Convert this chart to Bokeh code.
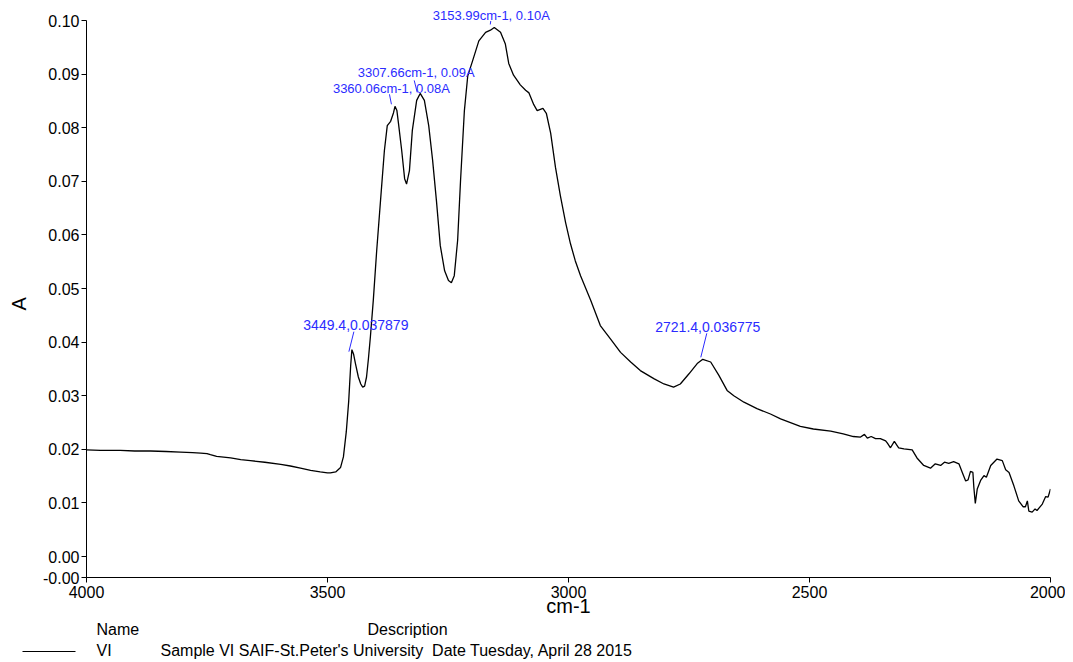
from bokeh.plotting import figure
from bokeh.models import Range1d, FixedTicker, CustomJSTickFormatter, Label
from bokeh.core.properties import value
from bokeh.embed import file_html
from bokeh.resources import INLINE

# ---------------- data ----------------
wavenumber = [4000, 3971, 3930, 3900, 3867, 3835, 3805, 3780, 3763, 3750, 3743, 3730,
              3701, 3680, 3660, 3630, 3597, 3577, 3556, 3535, 3515, 3500, 3494, 3483,
              3473, 3467, 3461, 3456, 3452, 3449.4, 3446, 3442, 3436, 3431, 3427, 3423,
              3419, 3415, 3411, 3405, 3398, 3390, 3382, 3376, 3369, 3363, 3360, 3356,
              3353, 3346, 3340, 3336, 3330, 3324, 3315, 3307.7, 3299, 3290, 3282, 3274,
              3266, 3257, 3249, 3243, 3237, 3230, 3224, 3216, 3209, 3200, 3186, 3172,
              3162, 3154, 3141, 3131, 3124, 3114, 3100, 3089, 3082, 3072, 3065, 3053,
              3046, 3037, 3027, 3017, 3006, 2996, 2986, 2975, 2954, 2934, 2913, 2892,
              2871, 2851, 2823, 2802, 2782, 2768, 2750, 2733, 2721.4, 2705, 2688, 2671,
              2657, 2636, 2609, 2581, 2560, 2519, 2492, 2456, 2430, 2409, 2394, 2386,
              2380, 2372, 2363, 2353, 2342, 2338, 2332, 2324, 2315, 2304, 2287, 2277,
              2263, 2249, 2239, 2228, 2220, 2211, 2201, 2190, 2183, 2176, 2171, 2166,
              2161, 2159, 2156, 2152, 2145, 2138, 2133, 2124, 2111, 2100, 2093, 2086,
              2076, 2066, 2057, 2052, 2048, 2045, 2038, 2032, 2028, 2017, 2010, 2005, 2000]
absorbance = [0.0199, 0.0198, 0.0198, 0.0197, 0.0197, 0.0196, 0.0195, 0.0194, 0.0193, 0.0192, 0.0190, 0.0187,
              0.0184, 0.0181, 0.0179, 0.0176, 0.0172, 0.0169, 0.0165, 0.0161, 0.0158, 0.0156, 0.0156, 0.0158,
              0.0166, 0.0186, 0.0233, 0.0290, 0.0355, 0.0386, 0.0378, 0.0360, 0.0335, 0.0322, 0.0316, 0.0318,
              0.0335, 0.0370, 0.0410, 0.0478, 0.0570, 0.0664, 0.0757, 0.0804, 0.0812, 0.0828, 0.0840, 0.0832,
              0.0810, 0.0757, 0.0705, 0.0695, 0.0720, 0.0795, 0.0851, 0.0864, 0.0851, 0.0804, 0.0740, 0.0664,
              0.0580, 0.0533, 0.0515, 0.0511, 0.0524, 0.0590, 0.0701, 0.0832, 0.0897, 0.0922, 0.0962, 0.0978,
              0.0982, 0.0987, 0.0978, 0.0956, 0.0920, 0.0898, 0.0880, 0.0870, 0.0865, 0.0843, 0.0832, 0.0836,
              0.0827, 0.0790, 0.0726, 0.0674, 0.0623, 0.0584, 0.0552, 0.0524, 0.0478, 0.0431, 0.0406, 0.0381,
              0.0363, 0.0347, 0.0332, 0.0322, 0.0316, 0.0322, 0.0341, 0.0360, 0.0368, 0.0363, 0.0338, 0.0310,
              0.0300, 0.0288, 0.0276, 0.0266, 0.0257, 0.0243, 0.0238, 0.0234, 0.0229, 0.0224, 0.0223, 0.0228,
              0.0221, 0.0224, 0.0220, 0.0220, 0.0216, 0.0211, 0.0203, 0.0215, 0.0203, 0.0201, 0.0199, 0.0184,
              0.0170, 0.0165, 0.0173, 0.0170, 0.0176, 0.0174, 0.0177, 0.0173, 0.0157, 0.0141, 0.0143, 0.0159,
              0.0157, 0.0129, 0.0099, 0.0126, 0.0142, 0.0151, 0.0148, 0.0170, 0.0182, 0.0179, 0.0162, 0.0157,
              0.0132, 0.0104, 0.0093, 0.0093, 0.0104, 0.0085, 0.0083, 0.0089, 0.0086, 0.0098, 0.0112, 0.0111, 0.0126]

peak_wn = [3449.4, 3360.06, 3307.66, 3153.99, 2721.4]
peak_abs = [0.0386, 0.0840, 0.0864, 0.0987, 0.0368]
peak_text = ["3449.4,0.037879", "3360.06cm-1, 0.08A", "3307.66cm-1, 0.09A",
             "3153.99cm-1, 0.10A", "2721.4,0.036775"]

x_ticks = [4000, 3500, 3000, 2500, 2000]
y_ticks = [-0.0039, 0.0, 0.01, 0.02, 0.03, 0.04, 0.05, 0.06, 0.07, 0.08, 0.09, 0.10]

x_title = "cm-1"
y_title = "A"
legend_head = ["Name", "Description"]
legend_row = ["VI", "Sample VI SAIF-St.Peter's University\u00a0 Date Tuesday, April 28 2015"]

# ---------------- style ----------------
FONT = "Liberation Sans"
BLUE = "#2b2bff"
X0, X1 = 4000, 2000
Y0, Y1 = -0.0039, 0.10336
AX_TOP = 0.10
FW, FH = 964, 575  # frame size in px
W = 1065
H_MAIN, H_LEG = 620, 42
label_off = [(4, 25, 14), (-3.5, 18, 13), (-4, 21, 13), (-3, 12, 13), (5, 32, 14)]
leader_off = [((-3, -2), (2, 18)), ((-3.5, 2), (-5.5, 12)), ((-3, 1), (-6, 13)),
              ((-4, 3), (-3.5, 6.5)), ((-2, 2), (4, 26))]

p = figure(width=W, height=H_MAIN, output_backend="svg", toolbar_location=None,
           x_range=Range1d(X0, X1), y_range=Range1d(Y0, Y1),
           min_border_left=86, min_border_right=15, min_border_top=2,
           min_border_bottom=H_MAIN - 2 - FH)
p.outline_line_color = None
p.xgrid.visible = False
p.ygrid.visible = False
p.background_fill_color = "white"
p.border_fill_color = "white"

p.line(wavenumber, absorbance, line_color="black", line_width=1.3)

# leader lines
px_x = (X0 - X1) / FW
px_y = (Y1 - Y0) / FH
xs0, ys0, xs1, ys1 = [], [], [], []
for wn, a, ((sx, sy), (ex, ey)) in zip(peak_wn, peak_abs, leader_off):
    xs0.append(wn - sx * px_x); ys0.append(a + sy * px_y)
    xs1.append(wn - ex * px_x); ys1.append(a + ey * px_y)
p.segment(xs0, ys0, xs1, ys1, line_color=BLUE, line_width=1)

for wn, a, t, (dx, dy, fs) in zip(peak_wn, peak_abs, peak_text, label_off):
    p.add_layout(Label(x=wn, y=a, x_offset=dx, y_offset=dy, text=t, text_color=BLUE,
                       text_font=FONT, text_font_size=f"{fs}px", text_align="center",
                       text_baseline="middle"))

for ax in (p.xaxis[0], p.yaxis[0]):
    ax.axis_line_color = "black"
    ax.axis_line_width = 1
    ax.major_tick_line_color = "black"
    ax.major_tick_out = 5
    ax.major_tick_in = 0
    ax.minor_tick_line_color = None
    ax.major_label_text_font = FONT
    ax.major_label_text_font_size = "16px"
    ax.major_label_text_color = "black"
    ax.axis_label_text_font = FONT
    ax.axis_label_text_font_style = "normal"
    ax.axis_label_text_color = "black"

p.xaxis.ticker = FixedTicker(ticks=x_ticks)
p.yaxis.ticker = FixedTicker(ticks=y_ticks)
p.yaxis.bounds = (Y0, AX_TOP)
p.yaxis.formatter = CustomJSTickFormatter(code="return tick < -0.001 ? '-0.00' : tick.toFixed(2);")
p.xaxis.major_label_standoff = 3
p.yaxis.major_label_standoff = 2
p.xaxis.axis_label = x_title
p.xaxis.axis_label_text_font_size = "20px"
p.xaxis.axis_label_standoff = -6
# trailing no-break spaces shift the rotated "A" below the frame centre, as in the reference
p.yaxis.axis_label = y_title + "\u00a0" * 5
p.yaxis.axis_label_text_font_size = "20px"
p.yaxis.axis_label_standoff = 10

# legend block under the chart: separate root whose data units are pixels
q = figure(width=W, height=H_LEG, output_backend="svg", toolbar_location=None,
           x_range=Range1d(0, W), y_range=Range1d(H_LEG, 0),
           x_axis_type=None, y_axis_type=None,
           min_border_left=0, min_border_right=0, min_border_top=0, min_border_bottom=0)
q.outline_line_color = None
q.background_fill_color = "white"
q.border_fill_color = "white"
q.text(x=[96, 367, 96, 160], y=[8.5, 8.5, 30, 30],
       text=[legend_head[0], legend_head[1], legend_row[0], legend_row[1]],
       text_font=value(FONT), text_font_size="16px", text_color="black",
       text_baseline="middle", text_align="left")
q.line(x=[22, 75], y=[31, 31], line_color="black", line_width=1)

open("out.html", "w").write(file_html([p, q], INLINE))
